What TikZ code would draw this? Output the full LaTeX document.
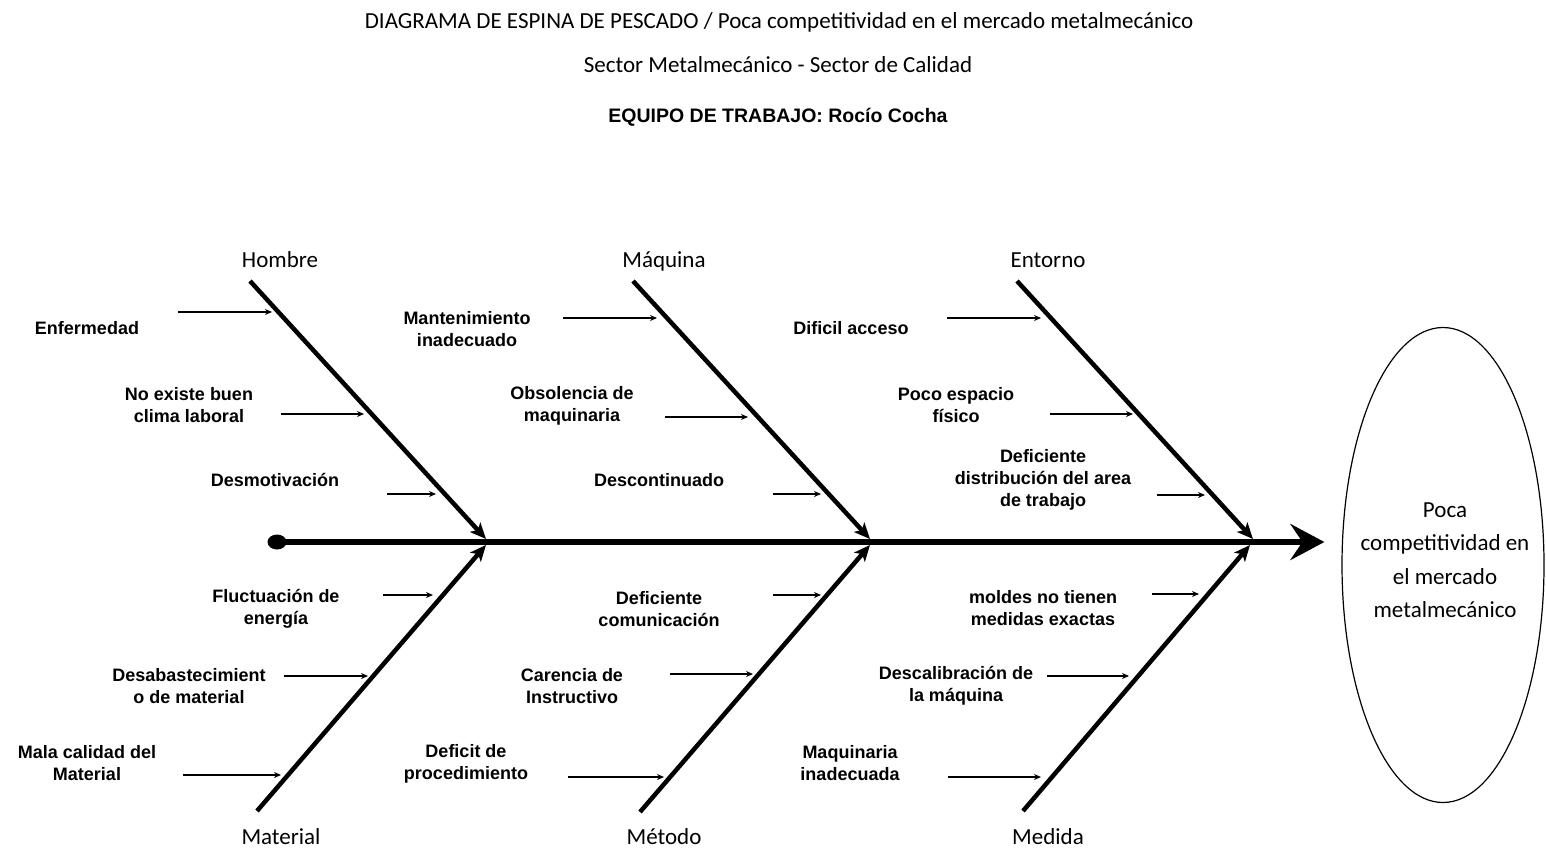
\documentclass[tikz,border=0pt]{standalone}
\usepackage{fontspec}
\setmainfont{Carlito}
\newfontfamily\causefont{Liberation Sans}
\usetikzlibrary{arrows.meta,shapes.geometric}
\begin{document}
\begin{tikzpicture}[x=1pt,y=-1pt,
  cause/.style={font=\causefont\bfseries\fontsize{18}{22}\selectfont, align=center, inner sep=0pt},
  cat/.style={font=\fontsize{23}{28}\selectfont, anchor=base, inner sep=0pt},
  titletext/.style={font=\fontsize{23}{28}\selectfont, anchor=base, inner sep=0pt},
  bone/.style={line width=4.5pt, -{Stealth[length=16pt,width=14pt,inset=4pt]}},
  twig/.style={line width=2.2pt, -{Stealth[length=7pt,width=6pt]}},
  spine/.style={line width=6pt, -{Stealth[length=34pt,width=36pt,inset=12pt]}},
]
\fill[white] (0,0) rectangle (1546,848);
\useasboundingbox (0,0) rectangle (1546,848);

% titles
\node[titletext] (t1) at (779,29) {DIAGRAMA DE ESPINA DE PESCADO / Poca competitividad en el mercado metalmecánico};
\node[titletext] (t2) at (778,73) {Sector Metalmecánico - Sector de Calidad};
\node[anchor=base, inner sep=0pt, font=\causefont\bfseries\fontsize{19.5}{24}\selectfont] (t3) at (778,123) {EQUIPO DE TRABAJO: Rocío Cocha};

% effect
\node[ellipse, draw, line width=1.2pt, minimum width=202pt, minimum height=475pt, inner sep=0pt] (eff) at (1443,565) {};
\node[font=\fontsize{23}{33.5}\selectfont, align=center, inner sep=0pt] (efftext) at (1445,560) {Poca\\competitividad en\\el mercado\\metalmecánico};

% spine
\node[ellipse, fill, minimum width=19pt, minimum height=15pt, inner sep=0pt] (dot) at (277,542) {};
\draw[spine, shorten >=17pt] (dot.center) -- (dot.center -| eff.west);

% category labels
\node[cat] (hombre) at (280,267) {Hombre};
\node[cat] (maquina) at (664,267) {Máquina};
\node[cat] (entorno) at (1048,267) {Entorno};
\node[cat] (material) at (281,844) {Material};
\node[cat] (metodo) at (664,844) {Método};
\node[cat] (medida) at (1048,844) {Medida};

% bones
\coordinate (bH) at (250,281);  \coordinate (jH) at (486,539);
\coordinate (bQ) at (633,281);  \coordinate (jQ) at (870,539);
\coordinate (bE) at (1017,281); \coordinate (jE) at (1253,539);
\coordinate (bM) at (257,811);  \coordinate (jM) at (486,545);
\coordinate (bT) at (640,812);  \coordinate (jT) at (870,545);
\coordinate (bD) at (1023,811); \coordinate (jD) at (1250,545);
\foreach \b in {H,Q,E,M,T,D} {\draw[bone] (b\b) -- (j\b);}

% twigs
\foreach \n/\xa/\xb/\y in {
  1/178/272/312, 2/281/364/414, 3/387/436/494,
  4/383/433/595, 5/284/368/676, 6/183/281/775,
  7/563/657/318, 8/665/748/417, 9/773/821/494,
  10/773/821/595, 11/670/753/674, 12/568/664/777,
  13/947/1041/318, 14/1050/1133/414, 15/1157/1205/495,
  16/1152/1199/594, 17/1047/1129/676, 18/948/1041/777} {
  \coordinate (s\n) at (\xa,\y);
  \coordinate (e\n) at (\xb,\y);
  \draw[twig] (s\n) -- (e\n);
}

% cause labels
\node[cause] (c1) at (87,328) {Enfermedad};
\node[cause] (c2) at (189,405) {No existe buen\\clima laboral};
\node[cause] (c3) at (275,480) {Desmotivación};
\node[cause] (c4) at (276,609) {Fluctuación de\\energía};
\node[cause] (c5) at (189,686) {Desabastecimient\\o de material};
\node[cause] (c6) at (87,763) {Mala calidad del\\Material};
\node[cause] (c7) at (467,329) {Mantenimiento\\inadecuado};
\node[cause] (c8) at (572,406) {Obsolencia de\\maquinaria};
\node[cause] (c9) at (659,480) {Descontinuado};
\node[cause] (c10) at (659,609) {Deficiente\\comunicación};
\node[cause] (c11) at (572,686) {Carencia de\\Instructivo};
\node[cause] (c12) at (466,764) {Deficit de\\procedimiento};
\node[cause] (c13) at (851,328) {Dificil acceso};
\node[cause] (c14) at (956,405) {Poco espacio\\físico};
\node[cause] (c15) at (1043,480) {Deficiente\\distribución del area\\de trabajo};
\node[cause] (c16) at (1043,608) {moldes no tienen\\medidas exactas};
\node[cause] (c17) at (956,686) {Descalibración de\\la máquina};
\node[cause] (c18) at (850,763) {Maquinaria\\inadecuada};
\end{tikzpicture}
\end{document}
